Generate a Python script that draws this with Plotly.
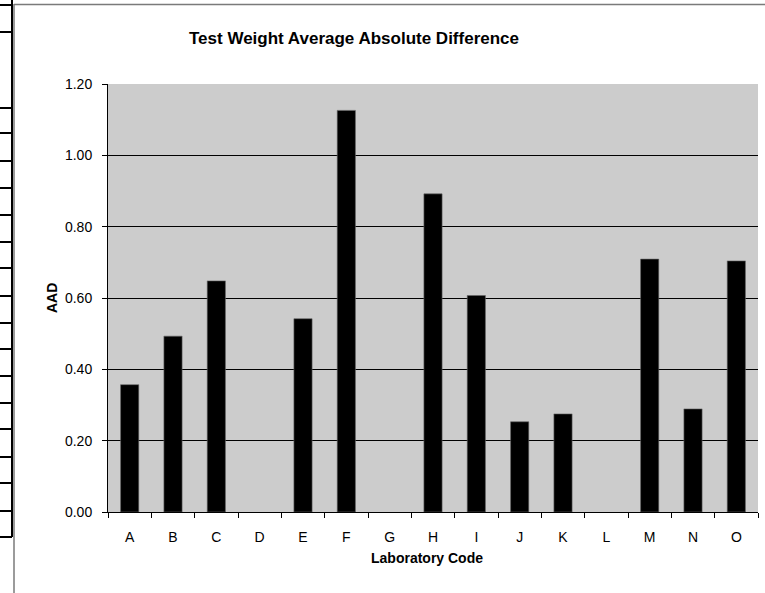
import plotly.graph_objects as go

labs = ["A", "B", "C", "D", "E", "F", "G", "H", "I", "J", "K", "L", "M", "N", "O"]
aad = [0.357, 0.493, 0.648, None, 0.542, 1.126, None, 0.892, 0.607, 0.253, 0.275, None, 0.709, 0.289, 0.704]
y_ticks = [0.0, 0.2, 0.4, 0.6, 0.8, 1.0, 1.2]
y_tick_text = ["0.00", "0.20", "0.40", "0.60", "0.80", "1.00", "1.20"]

W, H = 765, 593
L, R, T, B = 108, 7, 84, 81
pw, ph = W - L - R, H - T - B

def px(x):
    return (x - L) / pw

def py(y):
    return (H - B - y) / ph

font = "Liberation Sans, Arial, sans-serif"

fig = go.Figure(go.Bar(
    x=labs, y=aad,
    marker=dict(color="#000000", line=dict(color="#666666", width=0.6)),
))

shapes = []
# outer chart frame (gray)
shapes.append(dict(type="line", xref="paper", yref="paper", x0=px(14), x1=px(765), y0=py(4.5), y1=py(4.5),
                   line=dict(color="#7a7a7a", width=1.5)))
shapes.append(dict(type="line", xref="paper", yref="paper", x0=px(14), x1=px(14), y0=py(4), y1=py(593),
                   line=dict(color="#7a7a7a", width=1.5)))
# table fragment at left
shapes.append(dict(type="line", xref="paper", yref="paper", x0=px(12), x1=px(12), y0=py(0), y1=py(537),
                   line=dict(color="#000000", width=2)))
for yy in [5, 32, 108, 133, 161, 188, 215, 242, 268, 296, 323, 349, 376, 403, 429, 457, 483, 511, 537]:
    shapes.append(dict(type="line", xref="paper", yref="paper", x0=px(0), x1=px(12), y0=py(yy), y1=py(yy),
                       line=dict(color="#000000", width=2)))

fig.update_layout(
    width=W, height=H,
    margin=dict(l=L, r=R, t=T, b=B),
    paper_bgcolor="#ffffff",
    plot_bgcolor="#cccccc",
    bargap=0.58,
    showlegend=False,
    font=dict(family=font, size=14, color="#000000"),
    title=dict(text="<b>Test Weight Average Absolute Difference</b>", x=354 / W, xanchor="center",
               y=1 - 38 / H, yanchor="middle", font=dict(family=font, size=17, color="#000000")),
    xaxis=dict(showgrid=False, ticks="outside", tickson="boundaries", ticklen=5, tickcolor="#000000",
               showline=True, linecolor="#000000", linewidth=1, ticklabelstandoff=12,
               tickfont=dict(size=14, color="#000000")),
    yaxis=dict(range=[0, 1.2], tickvals=y_ticks, ticktext=y_tick_text, showgrid=True, gridcolor="#000000",
               gridwidth=1, ticks="outside", ticklen=5, tickcolor="#000000", showline=True, linecolor="#000000",
               linewidth=1, zeroline=False, ticklabelstandoff=7, tickfont=dict(size=14, color="#000000")),
    shapes=shapes,
    annotations=[
        dict(text="<b>AAD</b>", xref="paper", yref="paper", x=px(52), y=py(298), showarrow=False,
             textangle=-90, font=dict(family=font, size=14, color="#000000"), xanchor="center", yanchor="middle"),
        dict(text="<b>Laboratory Code</b>", xref="paper", yref="paper", x=px(427), y=py(558), showarrow=False,
             font=dict(family=font, size=14, color="#000000"), xanchor="center", yanchor="middle"),
    ],
)

fig.write_html("out.html", config={"displayModeBar": False},
               post_script="document.body.style.margin='0';")
